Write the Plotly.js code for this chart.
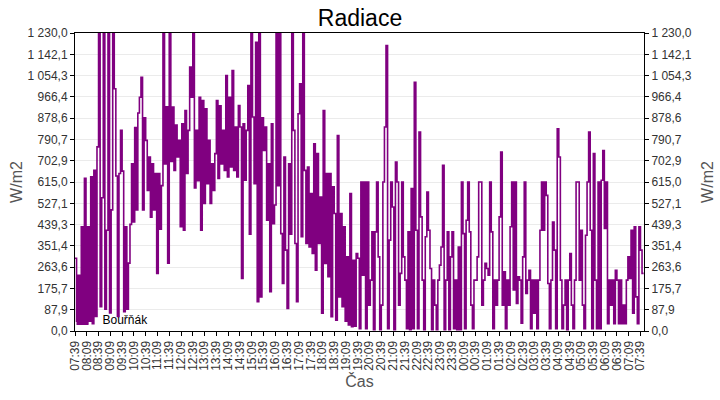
<!DOCTYPE html>
<html>
<head>
<meta charset="utf-8">
<script src="https://cdn.plot.ly/plotly-3.0.1.min.js"></script>
<style>
  html, body { margin: 0; padding: 0; background: #fff; }
  #chart { width: 720px; height: 400px; }
</style>
</head>
<body>
<div id="chart"></div>
<script>
// radiation W/m2, one reading every 4 minutes starting 07:39 (15 per hour)
const rad0739 = [
  300, 40, 230, 30, 430, 35, 630, 30, 430, 40, 636, 30, 663, 60, 760,
  1230, 100, 550, 1230, 90, 416, 1230, 75, 500, 1230, 1000, 640, 60, 650, 828,
  660, 80, 430, 90, 280, 440, 690, 450, 840, 500, 900, 965, 1047, 500, 880,
  787, 580, 718, 470, 690, 500, 650, 238, 650, 420, 600, 1230, 690, 925, 280,
  1230, 700, 924, 663, 850, 718, 787, 430, 855, 416, 910, 650, 828, 1089, 965,
  1230, 590, 828, 620, 965, 416, 951, 526, 917, 608, 787, 526, 690, 580, 732
];
const rad1339 = [
  951, 630, 930, 690, 828, 663, 1054, 636, 965, 677, 1075, 663, 842, 636, 931,
  842, 217, 855, 622, 828, 1013, 400, 1230, 883, 608, 1192, 121, 1230, 141, 880,
  745, 842, 457, 690, 162, 855, 443, 520, 1230, 600, 1230, 402, 196, 718, 334,
  93, 690, 400, 1230, 828, 361, 121, 897, 1020, 389, 1230, 663, 361, 677, 347,
  567, 320, 773, 251, 732, 361, 553, 73, 910, 279, 650, 224, 650, 59, 595,
  485, 45, 807, 141, 485, 100, 430, 40, 306, 25, 567, 18, 292, 20, 320
];
const rad1939 = [
  300, 10, 615, 230, 615, 10, 615, 107, 210, 409, 5, 409, 615, 306, 5,
  107, 615, 842, 1178, 10, 375, 615, 512, 5, 697, 615, 107, 238, 615, 306,
  210, 10, 409, 5, 588, 10, 1027, 416, 10, 821, 471, 210, 5, 389, 574,
  416, 258, 5, 210, 107, 5, 210, 272, 347, 684, 5, 210, 409, 5, 306,
  409, 10, 210, 5, 347, 5, 615, 402, 10, 457, 615, 409, 107, 10, 210,
  210, 306, 615, 615, 107, 210, 279, 258, 230, 615, 409, 10, 210, 107, 210
];
const rad0139 = [
  471, 739, 107, 244, 10, 210, 107, 430, 615, 169, 615, 114, 224, 210, 32,
  306, 615, 155, 210, 251, 10, 210, 73, 210, 10, 210, 416, 615, 416, 615,
  560, 196, 10, 210, 450, 334, 10, 835, 718, 210, 10, 107, 210, 5, 210,
  320, 107, 10, 210, 615, 615, 210, 416, 107, 10, 395, 615, 821, 416, 10,
  732, 210, 10, 615, 10, 622, 745, 423, 615, 30, 210, 107, 210, 30, 251,
  210, 30, 210, 30, 107, 30, 210, 306, 217, 416, 73, 430, 141, 30, 430
];
const rad0739end = [334, 238, 238];

const yTickVals = [0, 87.9, 175.7, 263.6, 351.4, 439.3, 527.1, 615.0, 702.9, 790.7, 878.6, 966.4, 1054.3, 1142.1, 1230.0];
const yTickText = ["0,0", "87,9", "175,7", "263,6", "351,4", "439,3", "527,1", "615,0", "702,9", "790,7", "878,6", "966,4", "1 054,3", "1 142,1", "1 230,0"];

const seriesName = "Bouřňák";
const startMs = Date.UTC(2024, 0, 1, 7, 39);
const stepMin = 4;

const values = [].concat(rad0739, rad1339, rad1939, rad0139, rad0739end);
const times = values.map((v, i) => startMs + i * stepMin * 60000);

const fontFam = "Liberation Sans, Arial, sans-serif";

const trace = {
  type: "scatter",
  mode: "lines",
  x: times,
  y: values,
  line: { color: "#800080", width: 1.6, shape: "hv" },
  showlegend: false,
  hoverinfo: "x+y"
};
// legend key only (square swatch), also carries the right-hand axis
const legendKey = {
  type: "bar",
  x: [null],
  y: [null],
  name: seriesName,
  marker: { color: "#800080" },
  yaxis: "y2"
};

const yCommon = {
  range: [0, 1230],
  tickvals: yTickVals,
  ticktext: yTickText,
  ticks: "outside",
  ticklen: 4,
  tickcolor: "#000",
  showline: true,
  linecolor: "#000",
  linewidth: 1,
  zeroline: false,
  fixedrange: true,
  tickfont: { family: fontFam, size: 12, color: "#333" }
};

const layout = {
  width: 720,
  height: 400,
  margin: { l: 75, r: 76, t: 33, b: 69 },
  paper_bgcolor: "#fff",
  plot_bgcolor: "#fff",
  font: { family: fontFam, size: 12, color: "#333" },
  title: {
    text: "Radiace",
    font: { family: fontFam, size: 23, color: "#000" },
    x: 0.5, xanchor: "center",
    y: 0.955, yanchor: "middle"
  },
  showlegend: true,
  legend: {
    x: -0.022, xanchor: "left",
    y: -0.008, yanchor: "bottom",
    bgcolor: "rgba(0,0,0,0)",
    font: { family: fontFam, size: 12, color: "#000" }
  },
  xaxis: {
    type: "date",
    range: [startMs, startMs + 1449 * 60000],
    tick0: startMs,
    dtick: 30 * 60000,
    tickformat: "%H:%M",
    tickangle: -90,
    ticks: "outside",
    ticklen: 4,
    tickcolor: "#000",
    showline: true,
    mirror: true,
    linecolor: "#000",
    showgrid: false,
    zeroline: false,
    tickfont: { family: fontFam, size: 12, color: "#333" },
    title: { text: "Čas", font: { family: fontFam, size: 16, color: "#555" }, standoff: 5 }
  },
  yaxis: Object.assign({}, yCommon, {
    side: "left",
    showgrid: true,
    gridcolor: "#ebebeb",
    title: { text: "W/m2", standoff: 0, font: { family: fontFam, size: 16, color: "#555" } }
  }),
  yaxis2: Object.assign({}, yCommon, {
    side: "right",
    overlaying: "y",
    showgrid: false,
    title: { text: "W/m2", standoff: 11, font: { family: fontFam, size: 16, color: "#555" } }
  })
};

Plotly.newPlot("chart", [trace, legendKey], layout, { staticPlot: true });
</script>
</body>
</html>
